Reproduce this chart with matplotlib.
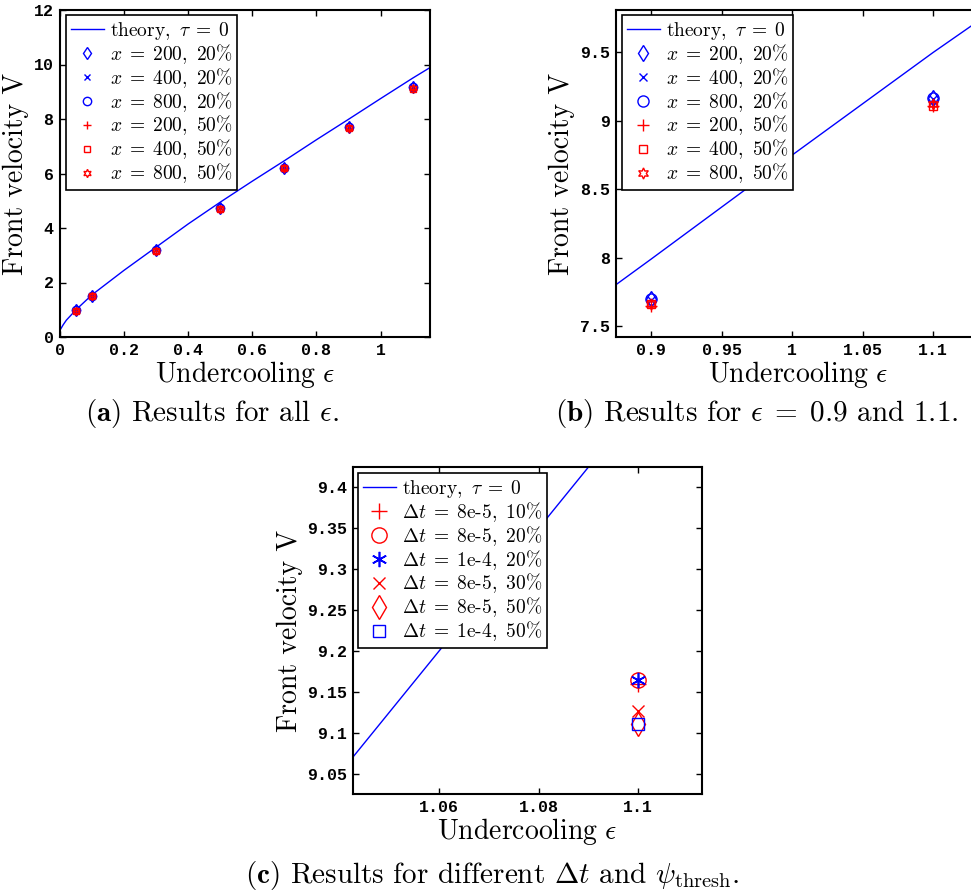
import numpy as np
import matplotlib.pyplot as plt
from matplotlib.font_manager import FontProperties

plt.rcParams['font.family'] = 'cmr10'
plt.rcParams['mathtext.fontset'] = 'cm'
plt.rcParams['axes.formatter.use_mathtext'] = True

# Theory curve, tau = 0
eps_theory = [0.0, 0.01, 0.02, 0.05, 0.1, 0.2, 0.3, 0.4, 0.5, 0.6, 0.7, 0.8, 0.9, 1.0, 1.1, 1.16]
V_theory = [0.25, 0.45, 0.62, 1.0, 1.55, 2.45, 3.3, 4.15, 4.95, 5.72, 6.47, 7.24, 7.99, 8.75, 9.5, 9.93]

# Simulated front velocities for different domain sizes and thresholds
eps_sim = [0.05, 0.1, 0.3, 0.5, 0.7, 0.9, 1.1]
V_x200_20 = [0.98, 1.51, 3.19, 4.74, 6.22, 7.70, 9.17]
V_x400_20 = [0.97, 1.50, 3.18, 4.73, 6.21, 7.69, 9.16]
V_x800_20 = [0.98, 1.51, 3.19, 4.74, 6.21, 7.695, 9.165]
V_x200_50 = [0.96, 1.49, 3.16, 4.71, 6.18, 7.65, 9.11]
V_x400_50 = [0.96, 1.49, 3.17, 4.71, 6.19, 7.66, 9.11]
V_x800_50 = [0.96, 1.49, 3.17, 4.71, 6.19, 7.66, 9.12]

# Time step / threshold study at eps = 1.1
eps_dt = [1.1]
V_dt8e5_10 = [9.160]
V_dt8e5_20 = [9.164]
V_dt1e4_20 = [9.164]
V_dt8e5_30 = [9.127]
V_dt8e5_50 = [9.111]
V_dt1e4_50 = [9.111]

W, H = 971, 893
fig = plt.figure(figsize=(W / 100, H / 100), dpi=100)

tickfont = FontProperties(family='Liberation Mono', weight='bold', size=12)
LABFS = 20
LEGFS = 14


def make_axes(x0, y0, x1, y1):
    ax = fig.add_axes([x0 / W, 1 - y1 / H, (x1 - x0) / W, (y1 - y0) / H])
    for s in ax.spines.values():
        s.set_linewidth(1.5)
    ax.tick_params(direction='in', top=True, right=True, length=4, width=1, pad=4)
    return ax


def style_ticks(ax, ylab_x):
    for lab in ax.get_xticklabels() + ax.get_yticklabels():
        lab.set_fontproperties(tickfont)
    ax.set_xlabel(r'$\mathrm{Undercooling}\ \epsilon$', fontsize=LABFS)
    ax.set_ylabel('Front velocity V', fontsize=LABFS)
    ax.xaxis.set_label_coords(0.5, -0.068)
    ax.yaxis.set_label_coords(ylab_x, 0.5)


def sim_series(ax, ms=6):
    ax.plot(eps_theory, V_theory, color='b', lw=1, label=r'$\mathrm{theory,}\ \tau\;=\;0$')
    ax.plot(eps_sim, V_x200_20, ls='none', marker='d', ms=ms, mfc='none', mec='b', mew=1,
            label=r'$x\;=\;200,\ 20\%$')
    ax.plot(eps_sim, V_x400_20, ls='none', marker='x', ms=ms * 0.7, mec='b', mew=1,
            label=r'$x\;=\;400,\ 20\%$')
    ax.plot(eps_sim, V_x800_20, ls='none', marker='o', ms=ms, mfc='none', mec='b', mew=1,
            label=r'$x\;=\;800,\ 20\%$')
    ax.plot(eps_sim, V_x200_50, ls='none', marker='+', ms=ms, mec='r', mew=1,
            label=r'$x\;=\;200,\ 50\%$')
    ax.plot(eps_sim, V_x400_50, ls='none', marker='s', ms=ms * 0.8, mfc='none', mec='r', mew=1,
            label=r'$x\;=\;400,\ 50\%$')
    ax.plot(eps_sim, V_x800_50, ls='none', marker=(6, 1, 0), ms=ms, mfc='none', mec='r', mew=1,
            label=r'$x\;=\;800,\ 50\%$')


def add_legend(ax, x, y):
    leg = ax.legend(loc='upper left', bbox_to_anchor=(x, y), borderaxespad=0, fontsize=LEGFS,
                    fancybox=False, framealpha=1, edgecolor='k', handlelength=1.7,
                    handletextpad=0.3, labelspacing=0.0, borderpad=0.25)
    leg.get_frame().set_linewidth(1.2)
    return leg


# (a) all undercoolings
ax = make_axes(60, 10, 430, 337)
sim_series(ax, ms=6)
ax.set_xlim(0, 1.154)
ax.set_ylim(0, 12)
ax.set_xticks([0, 0.2, 0.4, 0.6, 0.8, 1])
ax.set_xticklabels(['0', '0.2', '0.4', '0.6', '0.8', '1'])
ax.set_yticks([0, 2, 4, 6, 8, 10, 12])
style_ticks(ax, (29 - 60) / 370)
add_legend(ax, 6 / 370, 1 - 5 / 327)

# (b) zoom on eps = 0.9 and 1.1
ax = make_axes(616, 10, 980, 337)
sim_series(ax, ms=8)
ax.set_xlim(0.875, 1.1332)
ax.set_ylim(7.42, 9.81)
ax.set_xticks([0.9, 0.95, 1, 1.05, 1.1])
ax.set_xticklabels(['0.9', '0.95', '1', '1.05', '1.1'])
ax.set_yticks([7.5, 8, 8.5, 9, 9.5])
ax.set_yticklabels(['7.5', '8', '8.5', '9', '9.5'])
style_ticks(ax, (575 - 616) / 364)
add_legend(ax, 6 / 364, 1 - 5 / 327)

# (c) time step and threshold dependence
ax = make_axes(353, 467, 702, 794)
ax.plot(eps_theory, V_theory, color='b', lw=1, label=r'$\mathrm{theory,}\ \tau\;=\;0$')
ax.plot(eps_dt, V_dt8e5_10, ls='none', marker='+', ms=11, mec='r', mew=1,
        label=r'$\Delta t\;=\;\mathrm{8e\text{-}5},\ 10\%$')
ax.plot(eps_dt, V_dt8e5_20, ls='none', marker='o', ms=11, mfc='none', mec='r', mew=1,
        label=r'$\Delta t\;=\;\mathrm{8e\text{-}5},\ 20\%$')
ax.plot(eps_dt, V_dt1e4_20, ls='none', marker=(6, 2, 0), ms=11, mec='b', mew=1.2,
        label=r'$\Delta t\;=\;\mathrm{1e\text{-}4},\ 20\%$')
ax.plot(eps_dt, V_dt8e5_30, ls='none', marker='x', ms=8, mec='r', mew=1,
        label=r'$\Delta t\;=\;\mathrm{8e\text{-}5},\ 30\%$')
ax.plot(eps_dt, V_dt8e5_50, ls='none', marker='d', ms=12, mfc='none', mec='r', mew=1,
        label=r'$\Delta t\;=\;\mathrm{8e\text{-}5},\ 50\%$')
ax.plot(eps_dt, V_dt1e4_50, ls='none', marker='s', ms=9, mfc='none', mec='b', mew=1,
        label=r'$\Delta t\;=\;\mathrm{1e\text{-}4},\ 50\%$')
ax.set_xlim(1.0427, 1.1128)
ax.set_ylim(9.025, 9.425)
ax.set_xticks([1.06, 1.08, 1.1])
ax.set_xticklabels(['1.06', '1.08', '1.1'])
ax.set_yticks([9.05, 9.1, 9.15, 9.2, 9.25, 9.3, 9.35, 9.4])
ax.set_yticklabels(['9.05', '9.1', '9.15', '9.2', '9.25', '9.3', '9.35', '9.4'])
style_ticks(ax, (303 - 353) / 349)
add_legend(ax, 5 / 349, 1 - 6 / 327)

# sub-captions
capfs = 21
fig.text(212 / W, 1 - 421 / H, r'$\mathbf{(a)}$ Results for all $\epsilon$.', fontsize=capfs,
         ha='center', va='baseline')
fig.text(757 / W, 1 - 421 / H, r'$\mathbf{(b)}$ Results for $\epsilon\;=\;0.9$ and 1.1.', fontsize=capfs,
         ha='center', va='baseline')
fig.text(492 / W, 1 - 883 / H, r'$\mathbf{(c)}$ Results for different $\Delta t$ and $\psi_{\mathrm{thresh}}$.',
         fontsize=capfs, ha='center', va='baseline')

fig.savefig('out.png', dpi=100)
